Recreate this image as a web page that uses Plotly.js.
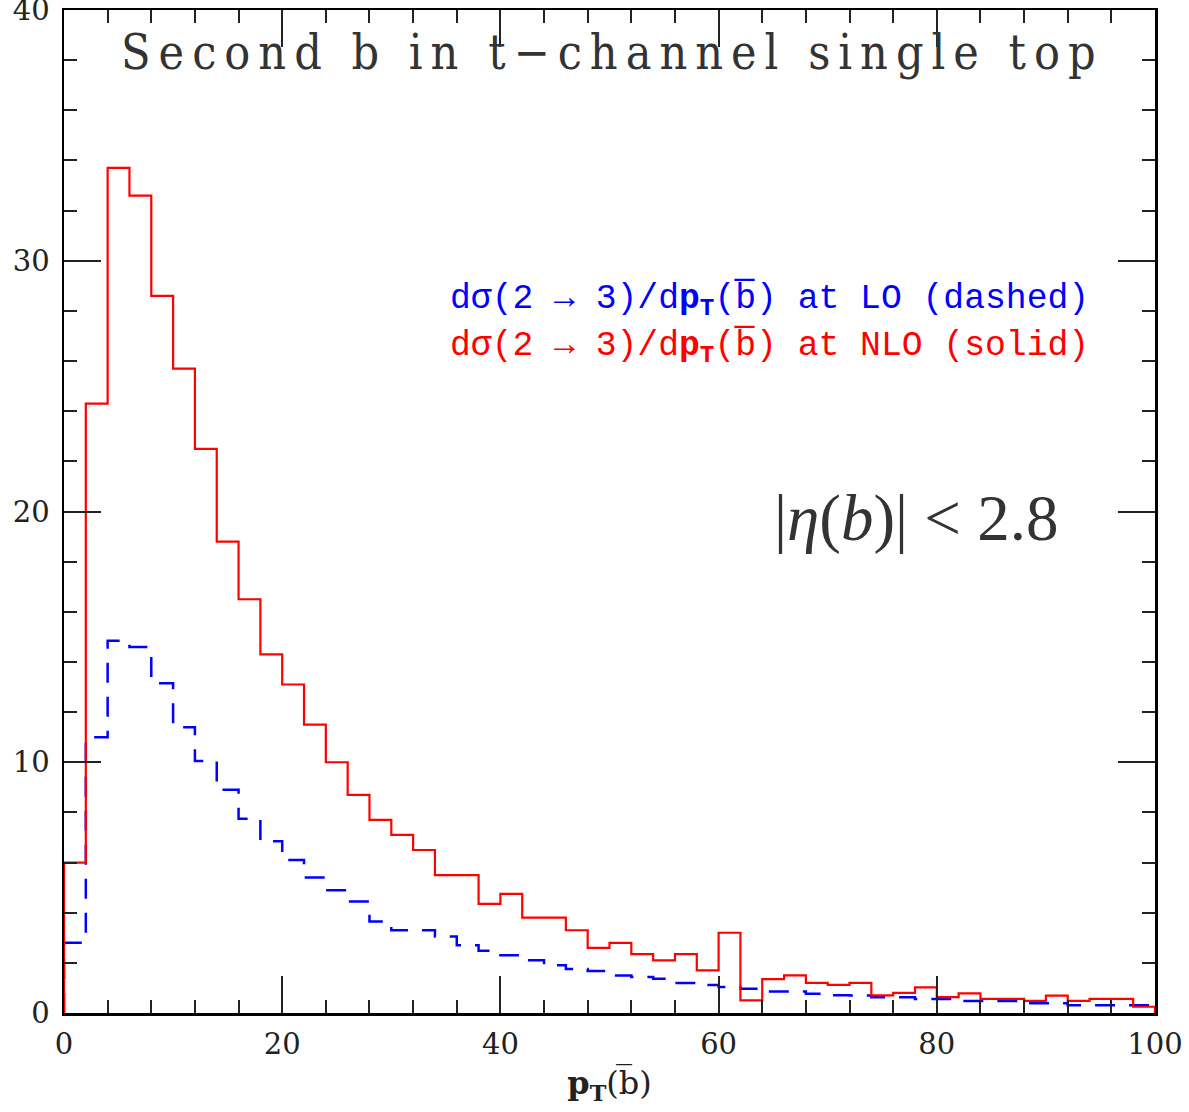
<!DOCTYPE html>
<html>
<head>
<meta charset="utf-8">
<script src="https://cdn.plot.ly/plotly-3.0.1.min.js"></script>
<style>html,body{margin:0;padding:0;background:#fff;}#chart{width:1189px;height:1112px;}</style>
</head>
<body>
<div id="chart"></div>
<script>
// Left edges of the 2 GeV bins of pT(b-bar)
const binLeftEdges = [0,2,4,6,8,10,12,14,16,18,20,22,24,26,28,30,32,34,36,38,40,42,44,46,48,50,52,54,56,58,60,62,64,66,68,70,72,74,76,78,80,82,84,86,88,90,92,94,96,98];
const rangeEnd = 100;
// NLO (solid red)
const nloValues = [6.0,24.3,33.7,32.6,28.6,25.7,22.5,18.8,16.5,14.3,13.1,11.5,10.0,8.7,7.7,7.1,6.5,5.5,5.5,4.35,4.75,3.8,3.8,3.3,2.6,2.8,2.35,2.1,2.35,1.7,3.2,0.5,1.35,1.5,1.2,1.12,1.2,0.7,0.8,1.02,0.63,0.78,0.56,0.56,0.48,0.69,0.48,0.56,0.56,0.25];
// LO (dashed blue)
const loValues = [2.8,11.0,14.85,14.6,13.15,11.4,10.05,8.9,7.75,6.85,6.1,5.4,4.9,4.45,3.65,3.3,3.3,3.05,2.7,2.48,2.3,2.1,1.9,1.75,1.67,1.5,1.44,1.37,1.2,1.12,1.04,0.97,0.86,0.86,0.77,0.71,0.7,0.63,0.63,0.56,0.56,0.48,0.48,0.48,0.39,0.39,0.31,0.31,0.31,0.31];

const xTickVals = [0,20,40,60,80,100];
const yTickVals = [0,10,20,30,40];

function stepX(){ return [0].concat(binLeftEdges, [rangeEnd]); }
function stepY(v){ return [0].concat(v, [0]); }

const traces = [
  {x: stepX(), y: stepY(loValues), mode:'lines', line:{shape:'hv', color:'#0000ff', width:2.5, dash:'20px,14px'}, hoverinfo:'skip', showlegend:false},
  {x: stepX(), y: stepY(nloValues), mode:'lines', line:{shape:'hv', color:'#ff0000', width:2.2}, hoverinfo:'skip', showlegend:false}
];

const tickFont = {family:'DejaVu Serif', size:29, color:'#222'};
const axisCommon = {
  showline:true, mirror:'allticks', linecolor:'#000', linewidth:2.5,
  ticks:'inside', ticklen:37, tickwidth:2, tickcolor:'#222',
  showgrid:false, zeroline:false, tickfont:tickFont, ticklabeloverflow:'allow'
};

const layout = {
  width:1189, height:1112,
  margin:{l:64, r:34, t:10, b:99},
  paper_bgcolor:'#fff', plot_bgcolor:'#fff',
  xaxis: Object.assign({}, axisCommon, {
    range:[0,100], tickvals:xTickVals, ticktext:xTickVals.map(String),
    ticklabelstandoff:4,
    minor:{dtick:4, tick0:0, ticks:'inside', ticklen:13, tickwidth:2, tickcolor:'#222', showgrid:false},
    title:{text:'<b>p</b><sub><b>T</b></sub>(b\u0305)', font:{family:'DejaVu Serif', size:32, color:'#222'}, standoff:12}
  }),
  yaxis: Object.assign({}, axisCommon, {
    range:[0,40], tickvals:yTickVals, ticktext:yTickVals.map(String),
    ticklabelstandoff:6,
    minor:{dtick:2, tick0:0, ticks:'inside', ticklen:13, tickwidth:2, tickcolor:'#222', showgrid:false}
  }),
  annotations:[
    {text:'Second b in t\u2212channel single top', xref:'paper', yref:'paper', x:0.503, y:0.958, xanchor:'center', yanchor:'middle', showarrow:false,
     font:{family:'DejaVu Serif Condensed, DejaVu Serif', size:48, color:'#333'}},
    {text:'d\u03c3(2 \u2192 3)/d<b>p</b><sub><b>T</b></sub>(b\u0305) at LO (dashed)', xref:'paper', yref:'paper', x:0.352, y:0.711, xanchor:'left', yanchor:'middle', showarrow:false,
     font:{family:'Liberation Mono', size:34.7, color:'#0000ff'}},
    {text:'d\u03c3(2 \u2192 3)/d<b>p</b><sub><b>T</b></sub>(b\u0305) at NLO (solid)', xref:'paper', yref:'paper', x:0.352, y:0.664, xanchor:'left', yanchor:'middle', showarrow:false,
     font:{family:'Liberation Mono', size:34.7, color:'#ff0000'}},
    {text:'|<i>\u03b7</i>(<i>b</i>)| < 2.8', xref:'paper', yref:'paper', x:0.649, y:0.494, xanchor:'left', yanchor:'middle', showarrow:false,
     font:{family:'Liberation Serif', size:65, color:'#333'}}
  ]
};

Plotly.newPlot('chart', traces, layout, {displayModeBar:false, staticPlot:true}).then(function(gd){
  // widen the title's letter spacing like the reference's spaced-out lettering
  const t = gd.querySelectorAll('.annotation-text')[0];
  if (t) { t.style.letterSpacing = '8px'; }
});
</script>
</body>
</html>
